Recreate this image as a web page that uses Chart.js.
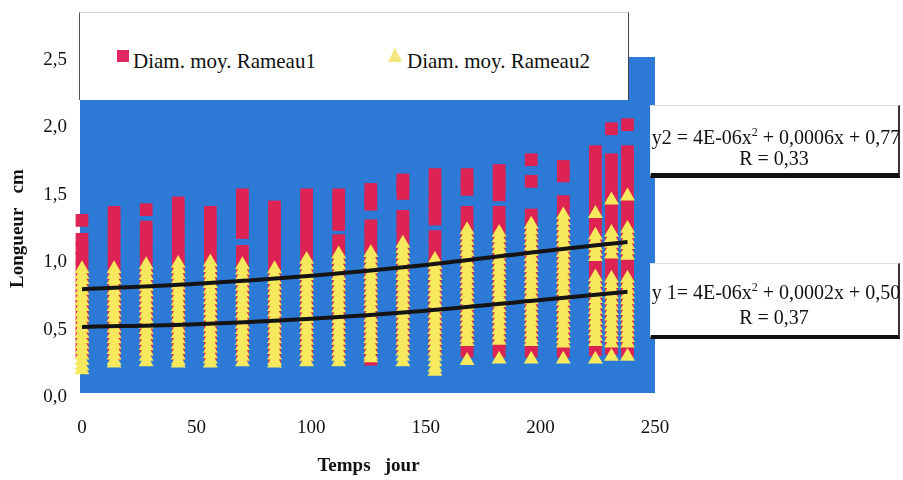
<!DOCTYPE html>
<html>
<head>
<meta charset="utf-8">
<script src="https://cdn.jsdelivr.net/npm/chart.js@4.4.0/dist/chart.umd.min.js"></script>
<style>
  body { margin: 0; background: #fff; }
  #wrap { position: relative; width: 903px; height: 480px; font-family: 'Liberation Serif', 'Times New Roman', serif; color: #111; }
  canvas { position: absolute; left: 0; top: 0; }
  .box { position: absolute; background: #fff; box-sizing: border-box; }
  .t { position: absolute; white-space: nowrap; font-size: 20px; line-height: 20px; }
  .lg { font-size: 21px; }
  .c { text-align: center; width: 250px; }
  sup { font-size: 12px; vertical-align: 8px; line-height: 0; }
</style>
</head>
<body>
<div id="wrap">
  <canvas id="c" width="903" height="480"></canvas>
  <div class="box" style="left:79px;top:12px;width:550px;height:88px;border-left:1px solid #555;border-top:1px solid #d0d0d0;border-right:1px solid #444;"></div>
  <div style="position:absolute;left:117px;top:50px;width:12px;height:12px;background:#e02a5f;"></div>
  <div class="t lg" style="left:133px;top:51px;">Diam. moy. Rameau1</div>
  <div style="position:absolute;left:388px;top:48px;width:14px;height:14px;background:#f4e67e;clip-path:polygon(50% 0,100% 100%,0 100%);"></div>
  <div class="t lg" style="left:407px;top:51px;">Diam. moy. Rameau2</div>

  <div class="box" style="left:650px;top:105px;width:250px;height:73px;border-top:1px solid #ddd;border-left:1px solid #eee;border-right:2px solid #333;border-bottom:5px solid #111;"></div>
  <div class="t c" style="left:651px;top:127px;">y2 = 4E-06x<sup>2</sup> + 0,0006x + 0,77</div>
  <div class="t c" style="left:649px;top:148px;">R = 0,33</div>

  <div class="box" style="left:650px;top:263px;width:250px;height:76px;border-top:1px solid #ddd;border-left:1px solid #eee;border-right:2px solid #333;border-bottom:4px solid #111;"></div>
  <div class="t c" style="left:651px;top:282px;">y 1= 4E-06x<sup>2</sup> + 0,0002x + 0,50</div>
  <div class="t c" style="left:649px;top:307px;">R = 0,37</div>
</div>
<script>
// Days of measurement
const days = [0, 14, 28, 42, 56, 70, 84, 98, 112, 126, 140, 154, 168, 182, 196, 210, 224, 231, 238];

// Diam. moy. Rameau1 (red squares), one list per day
const rameau1 = [
  [1.31, 1.17, 1.10, 1.03, 0.96, 0.89, 0.82, 0.75, 0.68, 0.61, 0.54, 0.47, 0.40, 0.33],
  [1.37, 1.30, 1.23, 1.16, 1.09, 1.02, 0.95, 0.88, 0.81, 0.74, 0.67, 0.60, 0.53, 0.46, 0.39, 0.32],
  [1.39, 1.26, 1.19, 1.12, 1.05, 0.98, 0.91, 0.84, 0.77, 0.70, 0.63, 0.56, 0.49, 0.42, 0.35],
  [1.44, 1.37, 1.30, 1.23, 1.16, 1.09, 1.02, 0.95, 0.88, 0.81, 0.74, 0.67, 0.60, 0.53, 0.46, 0.39, 0.32],
  [1.37, 1.30, 1.23, 1.16, 1.09, 1.02, 0.95, 0.88, 0.81, 0.74, 0.67, 0.60, 0.53, 0.46, 0.39, 0.32],
  [1.50, 1.43, 1.36, 1.29, 1.22, 1.08, 1.01, 0.94, 0.87, 0.80, 0.73, 0.66, 0.59, 0.52, 0.45, 0.38, 0.31],
  [1.41, 1.34, 1.27, 1.20, 1.13, 1.06, 0.99, 0.92, 0.85, 0.78, 0.71, 0.64, 0.57, 0.50, 0.43, 0.36, 0.30],
  [1.50, 1.43, 1.36, 1.29, 1.22, 1.15, 1.08, 1.01, 0.94, 0.87, 0.80, 0.73, 0.66, 0.59, 0.52, 0.45, 0.38, 0.31],
  [1.50, 1.43, 1.36, 1.28, 1.16, 1.09, 1.02, 0.95, 0.88, 0.81, 0.74, 0.67, 0.60, 0.53, 0.46, 0.39, 0.32],
  [1.54, 1.48, 1.43, 1.27, 1.20, 1.13, 1.06, 0.99, 0.92, 0.85, 0.78, 0.71, 0.64, 0.57, 0.50, 0.43, 0.36, 0.28],
  [1.61, 1.56, 1.51, 1.34, 1.27, 1.20, 1.13, 1.06, 0.99, 0.92, 0.85, 0.78, 0.71, 0.64, 0.57, 0.50, 0.43, 0.36],
  [1.65, 1.58, 1.51, 1.45, 1.38, 1.32, 1.19, 1.12, 1.05, 0.98, 0.91, 0.84, 0.77, 0.70, 0.63, 0.56, 0.49, 0.42, 0.35],
  [1.65, 1.59, 1.54, 1.37, 1.30, 1.23, 1.16, 1.09, 1.02, 0.95, 0.88, 0.81, 0.74, 0.67, 0.60, 0.53, 0.46, 0.40, 0.34],
  [1.68, 1.62, 1.56, 1.50, 1.37, 1.30, 1.23, 1.16, 1.09, 1.02, 0.95, 0.88, 0.81, 0.74, 0.67, 0.60, 0.53, 0.46, 0.40, 0.34],
  [1.76, 1.60, 1.35, 1.28, 1.21, 1.14, 1.07, 1.00, 0.93, 0.86, 0.79, 0.72, 0.65, 0.58, 0.51, 0.44, 0.39, 0.34],
  [1.71, 1.64, 1.45, 1.38, 1.31, 1.24, 1.17, 1.10, 1.03, 0.96, 0.89, 0.82, 0.75, 0.68, 0.61, 0.54, 0.47, 0.40, 0.34],
  [1.82, 1.75, 1.68, 1.61, 1.54, 1.47, 1.40, 1.33, 1.26, 1.19, 1.12, 1.05, 0.98, 0.91, 0.84, 0.77, 0.70, 0.63, 0.56, 0.49, 0.42, 0.35],
  [1.99, 1.76, 1.69, 1.62, 1.55, 1.48, 1.41, 1.34, 1.27, 1.20, 1.13, 1.06, 0.99, 0.92, 0.85, 0.78, 0.71, 0.64, 0.57, 0.50, 0.43, 0.36],
  [2.02, 1.82, 1.75, 1.68, 1.61, 1.52, 1.45, 1.38, 1.31, 1.24, 1.17, 1.10, 1.03, 0.96, 0.89, 0.82, 0.75, 0.68, 0.61, 0.54, 0.47, 0.40, 0.34]
];

// Diam. moy. Rameau2 (yellow triangles), one list per day
const rameau2 = [
  [0.95, 0.91, 0.87, 0.83, 0.79, 0.75, 0.71, 0.67, 0.63, 0.59, 0.55, 0.51, 0.47, 0.43, 0.39, 0.35, 0.31, 0.27, 0.23, 0.20],
  [0.95, 0.91, 0.87, 0.83, 0.79, 0.75, 0.71, 0.67, 0.63, 0.59, 0.55, 0.51, 0.47, 0.43, 0.39, 0.35, 0.31, 0.27, 0.25],
  [0.98, 0.94, 0.90, 0.86, 0.82, 0.78, 0.74, 0.70, 0.66, 0.62, 0.58, 0.54, 0.50, 0.46, 0.42, 0.38, 0.34, 0.30, 0.26],
  [0.99, 0.95, 0.91, 0.87, 0.83, 0.79, 0.75, 0.71, 0.67, 0.63, 0.59, 0.55, 0.51, 0.47, 0.43, 0.39, 0.35, 0.31, 0.27, 0.25],
  [1.00, 0.96, 0.92, 0.88, 0.84, 0.80, 0.76, 0.72, 0.68, 0.64, 0.60, 0.56, 0.52, 0.48, 0.44, 0.40, 0.36, 0.32, 0.28, 0.25],
  [0.98, 0.94, 0.90, 0.86, 0.82, 0.78, 0.74, 0.70, 0.66, 0.62, 0.58, 0.54, 0.50, 0.46, 0.42, 0.38, 0.34, 0.30, 0.26],
  [0.95, 0.91, 0.87, 0.83, 0.79, 0.75, 0.71, 0.67, 0.63, 0.59, 0.55, 0.51, 0.47, 0.43, 0.39, 0.35, 0.31, 0.27, 0.25],
  [1.02, 0.98, 0.94, 0.90, 0.86, 0.82, 0.78, 0.74, 0.70, 0.66, 0.62, 0.58, 0.54, 0.50, 0.46, 0.42, 0.38, 0.34, 0.30, 0.26],
  [1.06, 1.02, 0.98, 0.94, 0.90, 0.86, 0.82, 0.78, 0.74, 0.70, 0.66, 0.62, 0.58, 0.54, 0.50, 0.46, 0.42, 0.38, 0.34, 0.30, 0.26],
  [1.07, 1.03, 0.99, 0.95, 0.91, 0.87, 0.83, 0.79, 0.75, 0.71, 0.67, 0.63, 0.59, 0.55, 0.51, 0.47, 0.43, 0.39, 0.35, 0.31, 0.29],
  [1.14, 1.10, 1.06, 1.02, 0.98, 0.94, 0.90, 0.86, 0.82, 0.78, 0.74, 0.70, 0.66, 0.62, 0.58, 0.54, 0.50, 0.46, 0.42, 0.38, 0.34, 0.30, 0.26],
  [1.02, 0.98, 0.94, 0.90, 0.86, 0.82, 0.78, 0.74, 0.70, 0.66, 0.62, 0.58, 0.54, 0.50, 0.46, 0.42, 0.38, 0.34, 0.30, 0.26, 0.22, 0.19],
  [1.24, 1.20, 1.16, 1.12, 1.08, 1.04, 1.00, 0.96, 0.92, 0.88, 0.84, 0.80, 0.76, 0.72, 0.68, 0.64, 0.60, 0.56, 0.52, 0.48, 0.44, 0.41, 0.27],
  [1.22, 1.18, 1.14, 1.10, 1.06, 1.02, 0.98, 0.94, 0.90, 0.86, 0.82, 0.78, 0.74, 0.70, 0.66, 0.62, 0.58, 0.54, 0.50, 0.46, 0.42, 0.28],
  [1.28, 1.24, 1.20, 1.16, 1.12, 1.08, 1.04, 1.00, 0.96, 0.92, 0.88, 0.84, 0.80, 0.76, 0.72, 0.68, 0.64, 0.60, 0.56, 0.52, 0.48, 0.44, 0.41, 0.28],
  [1.35, 1.31, 1.27, 1.23, 1.19, 1.15, 1.11, 1.07, 1.03, 0.99, 0.95, 0.91, 0.87, 0.83, 0.79, 0.75, 0.71, 0.67, 0.63, 0.59, 0.55, 0.51, 0.47, 0.43, 0.40, 0.28],
  [1.36, 1.20, 1.16, 1.12, 1.08, 1.04, 0.89, 0.85, 0.81, 0.77, 0.73, 0.69, 0.65, 0.61, 0.57, 0.53, 0.49, 0.45, 0.41, 0.28],
  [1.46, 1.22, 1.18, 1.14, 1.10, 1.06, 0.88, 0.84, 0.80, 0.76, 0.72, 0.68, 0.64, 0.60, 0.56, 0.52, 0.48, 0.44, 0.40, 0.30],
  [1.49, 1.25, 1.21, 1.17, 1.13, 1.09, 1.05, 0.88, 0.84, 0.80, 0.76, 0.72, 0.68, 0.64, 0.60, 0.56, 0.52, 0.48, 0.44, 0.40, 0.30]
];

// Polynomial trend lines
const trendDays = [0, 50, 100, 150, 200, 238];
const trend2 = [0.80, 0.84, 0.90, 0.98, 1.08, 1.15];
const trend1 = [0.52, 0.54, 0.58, 0.64, 0.72, 0.78];

const FONT = "'Liberation Serif', 'Times New Roman', serif";
const toPoints = (lists) => days.flatMap((d, i) => lists[i].map(v => ({ x: d, y: v })));
const toLine = (xs, ys) => xs.map((d, i) => ({ x: d, y: ys[i] }));

const bgPlugin = {
  id: 'plotBg',
  beforeDatasetsDraw(chart) {
    const { ctx, chartArea: a } = chart;
    ctx.save();
    ctx.fillStyle = '#2c79d6';
    ctx.fillRect(a.left - 2, a.top - 3, a.right - a.left + 2, a.bottom - a.top - 1);
    ctx.restore();
  }
};

new Chart(document.getElementById('c'), {
  type: 'scatter',
  data: {
    datasets: [
      { type: 'line', label: 'Poly. Rameau2', data: toLine(trendDays, trend2), borderColor: '#141414', borderWidth: 4,
        pointRadius: 0, cubicInterpolationMode: 'monotone', fill: false, clip: false, order: 0 },
      { type: 'line', label: 'Poly. Rameau1', data: toLine(trendDays, trend1), borderColor: '#141414', borderWidth: 4,
        pointRadius: 0, cubicInterpolationMode: 'monotone', fill: false, clip: false, order: 0 },
      { label: 'Diam. moy. Rameau2', data: toPoints(rameau2), pointStyle: 'triangle', pointRadius: 8.6,
        backgroundColor: '#f7e95e', borderWidth: 0, pointBorderWidth: 0, clip: false, order: 1 },
      { label: 'Diam. moy. Rameau1', data: toPoints(rameau1), pointStyle: 'rect', pointRadius: 9,
        backgroundColor: '#dc2352', borderWidth: 0, pointBorderWidth: 0, clip: false, order: 2 }
    ]
  },
  options: {
    responsive: false,
    devicePixelRatio: 1,
    animation: false,
    events: [],
    layout: { padding: { left: 0, right: 248, top: 60, bottom: 0 } },
    plugins: { legend: { display: false }, tooltip: { enabled: false } },
    scales: {
      x: {
        type: 'linear', min: 0, max: 250,
        ticks: { stepSize: 50, padding: 20, maxRotation: 0, color: '#111', font: { family: FONT, size: 19 } },
        grid: { display: false, drawTicks: false },
        border: { display: false },
        title: { display: true, text: 'Temps   jour', color: '#111', font: { family: FONT, size: 19, weight: 'bold' }, padding: { top: 0, bottom: 3 } },
        afterFit: s => { s.height = 83; }
      },
      y: {
        min: 0, max: 2.5,
        ticks: { stepSize: 0.5, padding: 15, color: '#111', font: { family: FONT, size: 19 },
          callback: v => Number(v).toFixed(1).replace('.', ',') },
        grid: { display: false, drawTicks: false },
        border: { display: false },
        title: { display: true, text: 'Longueur   cm', color: '#111', font: { family: FONT, size: 19, weight: 'bold' }, padding: { top: 7, bottom: 0 } },
        afterFit: s => { s.width = 82; }
      }
    }
  },
  plugins: [bgPlugin]
});
</script>
</body>
</html>
